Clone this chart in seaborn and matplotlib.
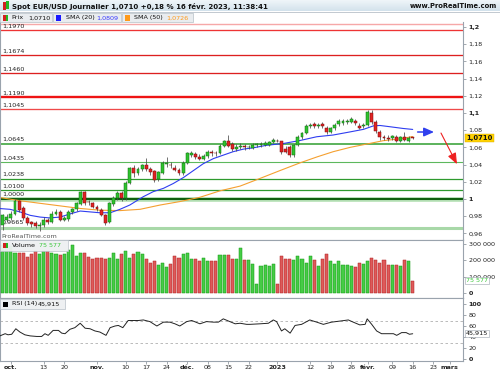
import numpy as np
import pandas as pd
import matplotlib
matplotlib.use("Agg")
import matplotlib.pyplot as plt
import matplotlib.transforms as mtransforms
from matplotlib.patches import Rectangle
import seaborn as sns

# ---------------------------------------------------------------- data
sessions = pd.bdate_range("2022-09-29", "2023-02-16")      # 101 daily candles
axis_days = pd.bdate_range("2022-09-29", "2023-03-10")

opens = [0.970, 0.976, 0.978, 0.983, 0.998, 0.989, 0.978, 0.973, 0.972, 0.969,
         0.970, 0.976, 0.973, 0.983, 0.985, 0.976, 0.977, 0.985, 0.988, 0.994,
         1.008, 0.997, 0.995, 0.991, 0.987, 0.981, 0.973, 0.994, 1.001, 1.007,
         1.001, 1.019, 1.036, 1.030, 1.035, 1.040, 1.035, 1.032, 1.023, 1.030,
         1.041, 1.040, 1.036, 1.034, 1.030, 1.042, 1.051, 1.052, 1.049, 1.047,
         1.050, 1.055, 1.054, 1.053, 1.062, 1.067, 1.064, 1.058, 1.061, 1.062,
         1.060, 1.059, 1.063, 1.063, 1.063, 1.063, 1.066, 1.068, 1.067, 1.058,
         1.061, 1.051, 1.063, 1.072, 1.077, 1.085, 1.087, 1.085, 1.087, 1.083,
         1.078, 1.082, 1.087, 1.088, 1.089, 1.090, 1.091, 1.085, 1.085, 1.086,
         1.100, 1.090, 1.078, 1.072, 1.071, 1.071, 1.072, 1.067, 1.072, 1.068,
         1.0712]
highs = [0.983, 0.982, 0.986, 1.000, 0.999, 0.992, 0.980, 0.975, 0.974, 0.973,
         0.979, 0.978, 0.986, 0.988, 0.987, 0.980, 0.987, 0.990, 0.997, 1.009,
         1.009, 0.999, 0.997, 0.993, 0.990, 0.983, 0.997, 1.003, 1.009, 1.009,
         1.021, 1.037, 1.039, 1.037, 1.041, 1.048, 1.037, 1.034, 1.032, 1.044,
         1.049, 1.043, 1.040, 1.036, 1.044, 1.055, 1.056, 1.055, 1.052, 1.052,
         1.057, 1.057, 1.056, 1.064, 1.069, 1.074, 1.066, 1.064, 1.065, 1.064,
         1.063, 1.065, 1.065, 1.066, 1.067, 1.068, 1.071, 1.070, 1.068, 1.062,
         1.063, 1.064, 1.074, 1.078, 1.087, 1.088, 1.090, 1.088, 1.089, 1.085,
         1.084, 1.088, 1.093, 1.093, 1.093, 1.095, 1.093, 1.088, 1.088, 1.103,
         1.103, 1.092, 1.080, 1.075, 1.074, 1.075, 1.074, 1.073, 1.078, 1.073,
         1.0725]
lows = [0.964, 0.973, 0.976, 0.981, 0.985, 0.976, 0.970, 0.968, 0.966, 0.963,
        0.968, 0.971, 0.972, 0.981, 0.974, 0.974, 0.975, 0.983, 0.986, 0.993,
        0.993, 0.993, 0.989, 0.986, 0.980, 0.970, 0.972, 0.992, 0.999, 0.998,
        0.999, 1.018, 1.026, 1.028, 1.033, 1.033, 1.028, 1.020, 1.021, 1.029,
        1.037, 1.036, 1.032, 1.028, 1.028, 1.041, 1.049, 1.046, 1.045, 1.045,
        1.048, 1.050, 1.050, 1.052, 1.060, 1.060, 1.056, 1.056, 1.058, 1.057,
        1.058, 1.058, 1.061, 1.061, 1.062, 1.062, 1.065, 1.066, 1.052, 1.054,
        1.049, 1.049, 1.062, 1.070, 1.076, 1.083, 1.083, 1.082, 1.082, 1.076,
        1.077, 1.080, 1.085, 1.086, 1.087, 1.088, 1.086, 1.081, 1.082, 1.085,
        1.087, 1.077, 1.069, 1.069, 1.068, 1.069, 1.066, 1.066, 1.067, 1.066,
        1.0695]
closes = [0.981, 0.979, 0.983, 0.998, 0.987, 0.978, 0.972, 0.971, 0.969, 0.970,
          0.976, 0.973, 0.983, 0.985, 0.976, 0.978, 0.985, 0.988, 0.995, 1.008,
          0.995, 0.996, 0.991, 0.988, 0.981, 0.972, 0.995, 1.001, 1.007, 1.001,
          1.019, 1.036, 1.030, 1.035, 1.040, 1.035, 1.031, 1.022, 1.031, 1.042,
          1.0415, 1.039, 1.034, 1.030, 1.042, 1.053, 1.053, 1.049, 1.047, 1.050,
          1.055, 1.053, 1.053, 1.062, 1.067, 1.062, 1.058, 1.061, 1.0615, 1.060,
          1.0605, 1.063, 1.0635, 1.0634, 1.065, 1.066, 1.069, 1.067, 1.055, 1.055,
          1.051, 1.063, 1.072, 1.077, 1.085, 1.086, 1.085, 1.086, 1.085, 1.078,
          1.082, 1.086, 1.091, 1.091, 1.091, 1.093, 1.088, 1.083, 1.086, 1.101,
          1.089, 1.079, 1.072, 1.071, 1.070, 1.073, 1.067, 1.072, 1.069, 1.071,
          1.0710]
volumes = [295000, 300000, 290000, 247000, 247000, 247000, 220000, 236000, 260000, 236000,
           256000, 256000, 245000, 241000, 230000, 241000, 265000, 291000, 226000, 247000,
           247000, 220000, 206000, 216000, 216000, 210000, 216000, 247000, 210000, 236000,
           255000, 216000, 236000, 251000, 236000, 210000, 186000, 196000, 174000, 184000,
           160000, 176000, 224000, 216000, 241000, 247000, 206000, 206000, 196000, 216000,
           196000, 196000, 196000, 230000, 230000, 230000, 206000, 206000, 277000, 200000,
           200000, 176000, 55000, 164000, 174000, 164000, 176000, 55000, 226000, 210000,
           210000, 204000, 224000, 206000, 186000, 224000, 204000, 164000, 210000, 240000,
           196000, 176000, 194000, 170000, 174000, 164000, 158000, 186000, 180000, 196000,
           216000, 200000, 186000, 204000, 170000, 170000, 170000, 166000, 204000, 194000,
           75577]

sma20_pos = [-1, 1.8, 4.2, 6.7, 9.1, 11.5, 14.0, 16.4, 18.9, 21.3, 23.7, 26.2, 28.6,
             31.0, 34.3, 36.7, 39.2, 41.6, 44.1, 46.5, 48.9, 51.4, 53.8, 56.2, 58.7,
             61.1, 64.4, 68.4, 72.5, 76.6, 80.6, 84.7, 88.0, 90.4, 92.0, 94.5, 97.7, 100]
sma20_val = [0.989, 0.988, 0.985, 0.981, 0.979, 0.978, 0.979, 0.9826, 0.986, 0.985, 0.984,
             0.984, 0.988, 0.993, 1.0027, 1.0085, 1.0124, 1.018, 1.025, 1.033, 1.041,
             1.047, 1.051, 1.055, 1.058, 1.0595, 1.0625, 1.0645, 1.068, 1.0724, 1.0744,
             1.078, 1.081, 1.085, 1.0855, 1.084, 1.082, 1.0809]
sma50_pos = [-1, 4.2, 9.1, 14.0, 18.9, 23.7, 28.6, 33.5, 38.4, 43.2, 48.1, 53.0, 57.9,
             62.8, 67.6, 72.5, 76.7, 80.6, 84.7, 88.9, 92.8, 96.9, 100]
sma50_val = [1.002, 0.998, 0.995, 0.992, 0.989, 0.987, 0.9865, 0.988, 0.993, 0.997,
             1.002, 1.0095, 1.015, 1.024, 1.033, 1.042, 1.049, 1.055, 1.060, 1.064,
             1.0678, 1.070, 1.0726]

rsi_pos = [-1, 0.6, 1.3, 2.2, 3.2, 4.2, 5.4, 6.7, 8.3, 9.5, 10.3, 11.1, 12.3, 13.6,
           14.4, 15.2, 16.4, 17.6, 18.9, 20.1, 21.3, 22.5, 23.7, 25.2, 26.2, 27.4,
           28.2, 29.3, 30.6, 31.9, 33.1, 34.3, 35.9, 37.6, 39.2, 40.8, 42.0, 43.2,
           44.9, 46.1, 48.1, 49.7, 51.4, 52.6, 53.8, 55.4, 56.7, 57.9, 59.5, 60.3,
           62.8, 64.8, 66.0, 66.8, 68.0, 68.8, 70.1, 71.3, 72.9, 74.9, 76.6, 78.2,
           80.2, 82.3, 84.3, 85.5, 87.1, 88.4, 88.9, 90.0, 91.2, 92.4, 94.0, 95.3,
           96.1, 97.3, 98.4, 99.2, 100]
rsi_val = [41, 46, 44, 45, 55, 49, 44, 42, 41, 41, 46, 43, 52, 52,
           47, 46, 54, 57, 65, 56, 55, 51, 49, 43, 57, 60,
           61, 57, 70, 70, 70, 71, 68, 60, 67, 67, 64, 60,
           68, 70, 64, 68, 67, 67, 73, 68, 64, 65, 63, 63,
           64, 65, 71, 68, 51, 55, 47, 61, 63, 71, 67, 63,
           67, 69, 71, 67, 62, 63, 73, 63, 51, 46, 46, 46,
           43, 48, 48, 45, 45.915]

support_levels = [1.0645, 1.0435, 1.0238, 1.0100, 1.0000, 0.9665]
support_labels = ["1,0645", "1,0435", "1,0238", "1,0100", "1,0000", "0,9665"]
resistance_levels = [1.1970, 1.1674, 1.1460, 1.1190, 1.1045]
resistance_labels = ["1,1970", "1,1674", "1,1460", "1,1190", "1,1045"]
top_band_level = 1.2035

price_ticks = [0.96, 0.98, 1.00, 1.02, 1.04, 1.06, 1.08, 1.10, 1.12, 1.14, 1.16, 1.18, 1.20]
price_tick_labels = ["0,96", "0,98", "1", "1,02", "1,04", "1,06", "1,08", "1,1",
                     "1,12", "1,14", "1,16", "1,18", "1,2"]
vol_ticks = [0, 100000, 200000, 300000]
vol_tick_labels = ["0", "100 000", "200 000", "300 000"]
rsi_ticks = [0, 20, 40, 60, 80, 100]
rsi_tick_labels = ["0", "20", "40", "60", "80", "100"]
date_ticks = ["2022-10-03", "2022-10-13", "2022-10-20", "2022-11-01", "2022-11-10",
              "2022-11-17", "2022-11-24", "2022-12-01", "2022-12-08", "2022-12-15",
              "2022-12-22", "2023-01-02", "2023-01-12", "2023-01-19", "2023-01-26",
              "2023-02-01", "2023-02-09", "2023-02-16", "2023-02-23", "2023-03-01"]
date_labels = ["oct.", "13", "20", "nov.", "10", "17", "24", "déc.", "08", "15", "22",
               "2023", "12", "19", "26", "févr.", "09", "16", "23", "mars"]
bold_dates = {"oct.", "nov.", "déc.", "2023", "févr.", "mars"}

# ---------------------------------------------------------------- style
sns.set_theme(style="white")
plt.rcParams["font.family"] = ["DejaVu Sans"]
FS = 4.6
GREEN, GREEN_E = "#2fc22f", "#0e6e0e"
RED, RED_E = "#e02323", "#7a0c0c"
VGREEN, VGREEN_E = "#46cc46", "#149a14"
VRED, VRED_E = "#de5a5a", "#b02020"
BORDER = "#9aa3ad"

W, H = 500, 375
fig = plt.figure(figsize=(5, 3.75), dpi=100)
fig.patch.set_facecolor("white")


def box(x0, y0, x1, y1):
    return [x0 / W, 1 - y1 / H, (x1 - x0) / W, (y1 - y0) / H]


def prect(x0, y0, x1, y1, **kw):
    fig.add_artist(Rectangle((x0 / W, 1 - y1 / H), (x1 - x0) / W, (y1 - y0) / H,
                             transform=fig.transFigure, **kw))


def ptext(x, y, s, **kw):
    kw.setdefault("fontsize", FS)
    kw.setdefault("va", "center")
    fig.text(x / W, 1 - y / H, s, **kw)


# pixel geometry of the panels
X_LEFT_IDX = -2.7 / 4.1
X_RIGHT_IDX = (463 - 2.7) / 4.1
price_y = lambda py: 1.0 + (199 - py) / 860.0
vol_y = lambda py: (293 - py) * 100000 / 16.33
rsi_y = lambda py: 100 - (py - 304) / 0.55

ax_p = fig.add_axes(box(0, 22, 463, 239.5))
ax_v = fig.add_axes(box(0, 239.5, 463, 298))
ax_r = fig.add_axes(box(0, 298, 463, 361))

for ax in (ax_p, ax_v, ax_r):
    ax.set_facecolor("white")
    ax.set_xlim(X_LEFT_IDX, X_RIGHT_IDX)
    for s in ax.spines.values():
        s.set_color(BORDER)
        s.set_linewidth(0.8)
        s.set_visible(True)
    ax.yaxis.tick_right()
    ax.tick_params(axis="y", which="both", direction="out", length=2.5, width=0.5,
                   color="#7f8790", labelcolor="#222222", labelsize=FS, pad=1.5,
                   left=False, right=True)
    ax.tick_params(axis="x", which="both", bottom=False, labelbottom=False)
    ax.set_xlabel("")
    ax.set_ylabel("")

ax_p.set_ylim(price_y(239.5), price_y(22))
ax_v.set_ylim(vol_y(298), vol_y(239.5))
ax_r.set_ylim(rsi_y(361), rsi_y(298))

# ---------------------------------------------------------------- price panel
idx = np.arange(len(sessions))
df = pd.DataFrame({"i": idx, "open": opens, "high": highs, "low": lows,
                   "close": closes, "volume": volumes})
up = (df["close"] >= df["open"]).to_numpy()

lvl_tr = mtransforms.blended_transform_factory(ax_p.transAxes, ax_p.transData)

# resistance lines
res_style = [("#ee3434", 0.95), ("#dd2020", 0.95), ("#dd2020", 0.95),
             ("#ee1414", 1.7), ("#ef4a4a", 0.95)]
ax_p.axhline(top_band_level, color="#f6a8a8", lw=1.0, zorder=1)
for lv, lab, (c, lw) in zip(resistance_levels, resistance_labels, res_style):
    ax_p.axhline(lv, color=c, lw=lw, zorder=1)
    ax_p.annotate(lab, xy=(0.004, lv), xycoords=lvl_tr, xytext=(0, 1.3),
                  textcoords="offset pixels", fontsize=FS, color="#222222",
                  ha="left", va="bottom")

# support lines
sup_style = [("#2f9e2f", 1.1), ("#5db85d", 0.8), ("#2e9a2e", 0.9),
             ("#2e9a2e", 0.9), ("#0f5f0f", 1.5), ("#a8d8a8", 2.2)]
for lv, lab, (c, lw) in zip(support_levels, support_labels, sup_style):
    if lab == "1,0000":
        ax_p.axhline(lv, color="#b9e2b9", lw=3.4, zorder=1)
    ax_p.axhline(lv, color=c, lw=lw, zorder=1.2)
    off = 2.6 if lab in ("1,0000", "0,9665") else 1.3
    ax_p.annotate(lab, xy=(0.004, lv), xycoords=lvl_tr, xytext=(0, off),
                  textcoords="offset pixels", fontsize=FS, color="#222222",
                  ha="left", va="bottom")

# moving averages (seaborn)
sns.lineplot(x=sma50_pos, y=sma50_val, ax=ax_p, color="#f5a030", lw=0.8,
             estimator=None, sort=False, zorder=2.5)
sns.lineplot(x=sma20_pos, y=sma20_val, ax=ax_p, color="#2f3df0", lw=0.8,
             estimator=None, sort=False, zorder=2.6)

# candles
ax_p.vlines(df["i"], df["low"], df["high"], color="#4a4a4a", lw=0.55, zorder=3)
body_lo = np.minimum(df["open"], df["close"])
body_h = np.maximum(np.abs(df["close"] - df["open"]), 0.0008)
ax_p.bar(df["i"], body_h, bottom=body_lo, width=0.72,
         color=np.where(up, GREEN, RED), edgecolor=np.where(up, GREEN_E, RED_E),
         linewidth=0.35, zorder=4)

# arrows
ax_p.annotate("", xy=(105.2, 1.0779), xytext=(101.2, 1.0779),
              arrowprops=dict(arrowstyle="-|>,head_length=0.5,head_width=0.22",
                              color="#3040ee", lw=1.1, shrinkA=0, shrinkB=0), zorder=6)
ax_p.annotate("", xy=(110.8, 1.0405), xytext=(106.9, 1.0767),
              arrowprops=dict(arrowstyle="-|>,head_length=0.55,head_width=0.22",
                              color="#ee2020", lw=0.8, shrinkA=0, shrinkB=0), zorder=6)

ax_p.set_yticks(price_ticks)
ax_p.set_yticklabels(price_tick_labels)
for t in ax_p.get_yticklabels():
    if t.get_text() in ("1", "1,1", "1,2"):
        t.set_fontweight("bold")
ax_p.spines["top"].set_visible(False)

ax_p.text(0.004, 0.004, "ProRealTime.com", transform=ax_p.transAxes, fontsize=FS,
          color="#555555", ha="left", va="bottom", zorder=7)
ax_p.text(1.0065, closes[-1], "1,0710", transform=lvl_tr, fontsize=FS + 0.3,
          fontweight="bold", color="#111111", ha="left", va="center", clip_on=False,
          bbox=dict(boxstyle="square,pad=0.18", fc="#ffd200", ec="#d8aa00", lw=0.3),
          zorder=10)

# ---------------------------------------------------------------- volume panel
ax_v.bar(df["i"], df["volume"], width=0.74,
         color=np.where(up, VGREEN, VRED), edgecolor=np.where(up, VGREEN_E, VRED_E),
         linewidth=0.35, zorder=3)
ax_v.set_yticks(vol_ticks)
ax_v.set_yticklabels(vol_tick_labels)
for t in ax_v.get_yticklabels():
    if t.get_text() == "0":
        t.set_fontweight("bold")
vtr = mtransforms.blended_transform_factory(ax_v.transAxes, ax_v.transData)
ax_v.text(1.0065, volumes[-1], "75 577", transform=vtr, fontsize=FS, color="#3cc83c",
          ha="left", va="center", clip_on=False,
          bbox=dict(boxstyle="square,pad=0.18", fc="white", ec="#9aa3ad", lw=0.4),
          zorder=10)

# ---------------------------------------------------------------- RSI panel
ax_r.axhline(70, color="#b0b0b0", lw=0.6, ls=(0, (3, 3)), zorder=1)
ax_r.axhline(30, color="#b0b0b0", lw=0.6, ls=(0, (3, 3)), zorder=1)
sns.lineplot(x=rsi_pos, y=rsi_val, ax=ax_r, color="#222222", lw=0.7,
             estimator=None, sort=False, zorder=3)
ax_r.set_yticks(rsi_ticks)
ax_r.set_yticklabels(rsi_tick_labels)
for t in ax_r.get_yticklabels():
    if t.get_text() in ("0", "100"):
        t.set_fontweight("bold")
rtr = mtransforms.blended_transform_factory(ax_r.transAxes, ax_r.transData)
ax_r.text(1.0065, rsi_val[-1], "45,915", transform=rtr, fontsize=FS, color="#111111",
          ha="left", va="center", clip_on=False,
          bbox=dict(boxstyle="square,pad=0.18", fc="white", ec="#9aa3ad", lw=0.4),
          zorder=10)

tick_pos = axis_days.get_indexer(pd.to_datetime(date_ticks))
ax_r.set_xticks(tick_pos)
ax_r.set_xticklabels(date_labels)
ax_r.tick_params(axis="x", bottom=True, labelbottom=True, direction="out", length=2,
                 width=0.5, color="#7f8790", labelsize=FS, labelcolor="#222222", pad=1.2)
for t in ax_r.get_xticklabels():
    if t.get_text() in bold_dates:
        t.set_fontweight("bold")
ax_r.set_xlim(X_LEFT_IDX, X_RIGHT_IDX)

# ---------------------------------------------------------------- header
ax_t = fig.add_axes(box(0, 0, 500, 11.5))
grad = np.linspace(0, 1, 32).reshape(-1, 1)
ax_t.imshow(grad, aspect="auto", cmap=matplotlib.colors.LinearSegmentedColormap.from_list(
    "hdr", ["#f2f7fa", "#d3e2ec"]), extent=(0, 1, 0, 1))
ax_t.set_axis_off()
fig.add_artist(plt.Line2D([0, 1], [1 - 11.5 / H] * 2, transform=fig.transFigure,
                          color="#aab4bd", lw=0.5))
prect(2.5, 2.5, 5.5, 9.5, fc="#d42020", ec="none")
prect(6.0, 1.5, 9.0, 8.5, fc="#24b824", ec="none")
ptext(12.5, 6.2, "Spot EUR/USD Journalier 1,0710 +0,18 % 16 févr. 2023, 11:38:41",
      fontsize=5.0, fontweight="bold", color="#111111")
ptext(497, 6.2, "www.ProRealTime.com", ha="right", fontsize=4.9, fontweight="bold",
      color="#111111")

# legend row
LEG_BG, LEG_EC = "#e9ecef", "#b8c0c8"
prect(0, 13.3, 52, 22, fc=LEG_BG, ec=LEG_EC, lw=0.5)
prect(53, 13.3, 121, 22, fc=LEG_BG, ec=LEG_EC, lw=0.5)
prect(122, 13.3, 193, 22, fc=LEG_BG, ec=LEG_EC, lw=0.5)
prect(3.3, 15.2, 5.5, 20.5, fc="#d42020", ec="none")
prect(5.5, 15.2, 7.8, 20.5, fc="#24b824", ec="none")
ptext(11.5, 17.8, "Prix", color="#111111")
ptext(28.3, 17.8, "1,0710", color="#111111")
prect(56, 15.2, 61, 20.5, fc="#1a1aff", ec="none")
ptext(65.5, 17.8, "SMA (20)", color="#111111")
ptext(96.7, 17.8, "1,0809", color="#3a3aff")
prect(124.5, 15.2, 129.5, 20.5, fc="#ff9a1a", ec="none")
ptext(133.5, 17.8, "SMA (50)", color="#111111")
ptext(166, 17.8, "1,0726", color="#ff9a1a")

# volume legend
prect(0, 240, 68, 250.5, fc="#eef0f2", ec=LEG_EC, lw=0.5, alpha=0.95, zorder=20)
prect(3.3, 242.5, 5.5, 248, fc="#d42020", ec="none", zorder=21)
prect(5.5, 242.5, 7.8, 248, fc="#24b824", ec="none", zorder=21)
ptext(11.7, 245.3, "Volume", color="#111111", zorder=21)
ptext(39.3, 245.3, "75 577", color="#3cc83c", zorder=21)

# RSI legend
prect(0, 298.8, 65, 309, fc="#eef0f2", ec=LEG_EC, lw=0.5, zorder=20)
prect(3.3, 301.5, 8.3, 306.5, fc="#000000", ec="none", zorder=21)
ptext(11.7, 304, "RSI (14)", color="#111111", zorder=21)
ptext(38, 304, "45,915", color="#111111", zorder=21)

fig.savefig("out.png", dpi=100, facecolor="white")
